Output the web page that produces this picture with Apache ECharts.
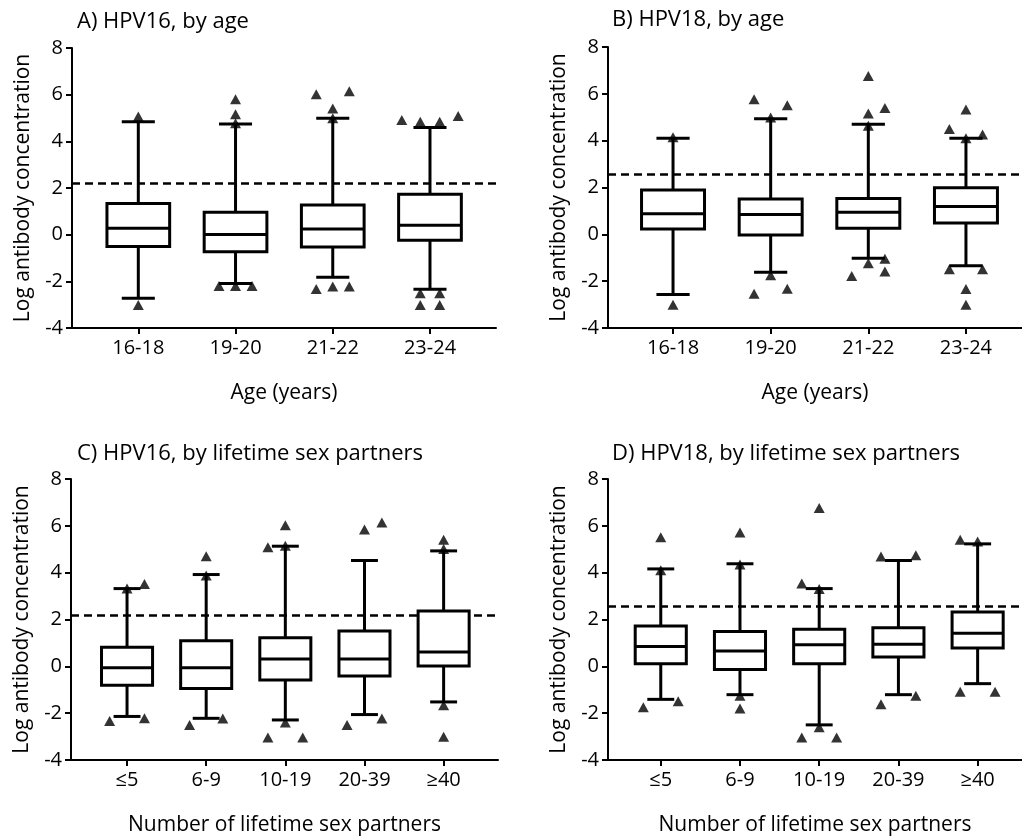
<!DOCTYPE html>
<html>
<head>
<meta charset="utf-8">
<script src="https://cdn.jsdelivr.net/npm/echarts@6/dist/echarts.min.js"></script>
<style>
html,body{margin:0;padding:0;background:#fff;}
#chart{width:1022px;height:837px;}
</style>
</head>
<body>
<div id="chart"></div>
<script>
// ---------- categories ----------
const catsAge = ['16-18', '19-20', '21-22', '23-24'];
const catsPartners = ['\u22645', '6-9', '10-19', '20-39', '\u226540'];

// ---------- box values: [lowerWhisker, Q1, median, Q3, upperWhisker] ----------
const boxA = [
  [-2.73, -0.51, 0.27, 1.34, 4.84],
  [-2.09, -0.73, 0.01, 0.96, 4.74],
  [-1.83, -0.53, 0.24, 1.27, 4.99],
  [-2.34, -0.24, 0.40, 1.73, 4.59]
];
const boxB = [
  [-2.57, 0.23, 0.88, 1.89, 4.10],
  [-1.62, -0.03, 0.85, 1.51, 4.94],
  [-1.02, 0.26, 0.94, 1.53, 4.70],
  [-1.34, 0.48, 1.19, 1.99, 4.10]
];
const boxC = [
  [-2.14, -0.81, -0.06, 0.82, 3.32],
  [-2.22, -0.95, -0.06, 1.09, 3.92],
  [-2.29, -0.58, 0.31, 1.22, 5.13],
  [-2.06, -0.41, 0.31, 1.51, 4.52],
  [-1.52, 0.01, 0.61, 2.36, 4.93]
];
const boxD = [
  [-1.41, 0.11, 0.85, 1.72, 4.16],
  [-1.21, -0.13, 0.65, 1.49, 4.38],
  [-2.50, 0.11, 0.92, 1.58, 3.32],
  [-1.21, 0.40, 0.94, 1.65, 4.52],
  [-0.74, 0.78, 1.41, 2.32, 5.23]
];

// ---------- outliers: [category position (index + small spread), value] ----------
const outA = [
  [0, 5.06], [0, -3.01],
  [1, 5.80], [1, 5.16], [1, 4.77], [0.83, -2.20], [1, -2.20], [1.17, -2.20],
  [1.83, 6.02], [2.17, 6.15], [2, 5.41], [2, 4.99], [1.83, -2.33], [2, -2.22], [2.17, -2.22],
  [2.71, 4.91], [2.9, 4.84], [3.1, 4.84], [3.29, 5.09],
  [2.9, -2.51], [3.1, -2.51], [2.9, -3.01], [3.1, -3.01]
];
const outB = [
  [0, 4.15], [0, -3.01],
  [0.83, 5.77], [1.17, 5.51], [1, 4.99], [1, -1.75], [0.83, -2.54], [1.17, -2.32],
  [2, 6.76], [2, 5.16], [2.17, 5.40], [2, 4.64], [2, -1.24], [2.17, -1.04], [2.17, -1.59], [1.83, -1.78],
  [3, 5.33], [2.83, 4.50], [3.17, 4.26], [3, 4.10], [2.83, -1.49], [3.17, -1.49], [3, -2.33], [3, -3.01]
];
const outC = [
  [0, 3.32], [0.22, 3.52], [-0.22, -2.33], [0.22, -2.22],
  [1, 4.70], [1, 3.88], [0.79, -2.51], [1.21, -2.23],
  [2, 6.02], [1.78, 5.09], [2, 5.15], [2, -2.40], [1.78, -3.04], [2.22, -3.04],
  [3, 5.84], [3.22, 6.14], [2.78, -2.51], [3.22, -2.23],
  [4, 5.41], [4, 5.01], [4, -1.66], [4, -3.01]
];
const outD = [
  [0, 5.51], [0, 4.10], [-0.22, -1.75], [0.22, -1.49],
  [1, 5.72], [1, 4.35], [1, -1.26], [1, -1.80],
  [2, 6.76], [1.78, 3.54], [2, 3.30], [2, -2.60], [1.78, -3.04], [2.22, -3.04],
  [2.78, 4.69], [3.22, 4.74], [2.78, -1.62], [3.22, -1.26],
  [3.78, 5.41], [4, 5.33], [3.78, -1.09], [4.22, -1.09]
];

// ---------- seropositivity cutoffs ----------
const cutoffHPV16 = 2.2;
const cutoffHPV18 = 2.55;

// ---------- y ticks ----------
const yMin = -4, yMax = 8, yStep = 2;

// ---------- panel texts ----------
const titles = ['A) HPV16, by age', 'B) HPV18, by age',
  'C) HPV16, by lifetime sex partners', 'D) HPV18, by lifetime sex partners'];
const yTitle = 'Log antibody concentration';
const xTitleAge = 'Age (years)';
const xTitlePartners = 'Number of lifetime sex partners';

// ================= layout / styling =================
const FONT = 'Open Sans';
const TXT = '#000';
const panels = [
  {grid: {left: 72, top: 48, width: 424, height: 280}, xr: [-0.682, 3.679], cats: catsAge, box: boxA, out: outA, cut: cutoffHPV16, xname: xTitleAge, title: {left: 72, top: 6}},
  {grid: {left: 608, top: 47, right: 0, height: 281}, xr: [-0.666, 3.574], cats: catsAge, box: boxB, out: outB, cut: cutoffHPV18, xname: xTitleAge, title: {left: 607, top: 4}},
  {grid: {left: 71, top: 479, width: 427, height: 282}, xr: [-0.708, 4.687], cats: catsPartners, box: boxC, out: outC, cut: cutoffHPV16, xname: xTitlePartners, title: {left: 72, top: 438}},
  {grid: {left: 608, top: 479, right: 0, height: 282}, xr: [-0.666, 4.56], cats: catsPartners, box: boxD, out: outD, cut: cutoffHPV18, xname: xTitlePartners, title: {left: 607, top: 438}}
];

const BOX_FRAC = 0.645, CAP_FRAC = 0.34, LW = 3;

function renderBox(params, api) {
  const x = api.value(0);
  const lo = api.coord([x, api.value(1)]);
  const q1 = api.coord([x, api.value(2)]);
  const md = api.coord([x, api.value(3)]);
  const q3 = api.coord([x, api.value(4)]);
  const hi = api.coord([x, api.value(5)]);
  const unit = api.size([1, 0])[0];
  const hb = unit * BOX_FRAC / 2, hc = unit * CAP_FRAC / 2;
  const cx = lo[0];
  const st = {stroke: '#000', lineWidth: LW, fill: null};
  return {
    type: 'group',
    children: [
      {type: 'line', shape: {x1: cx, y1: q3[1], x2: cx, y2: hi[1]}, style: st},
      {type: 'line', shape: {x1: cx, y1: q1[1], x2: cx, y2: lo[1]}, style: st},
      {type: 'line', shape: {x1: cx - hc, y1: hi[1], x2: cx + hc, y2: hi[1]}, style: st},
      {type: 'line', shape: {x1: cx - hc, y1: lo[1], x2: cx + hc, y2: lo[1]}, style: st},
      {type: 'rect', shape: {x: cx - hb, y: q3[1], width: 2 * hb, height: q1[1] - q3[1]}, style: {stroke: '#000', lineWidth: LW, fill: '#fff'}},
      {type: 'line', shape: {x1: cx - hb, y1: md[1], x2: cx + hb, y2: md[1]}, style: st}
    ]
  };
}

const option = {
  animation: false,
  backgroundColor: '#fff',
  textStyle: {fontFamily: FONT, color: TXT},
  title: [], grid: [], xAxis: [], yAxis: [], series: []
};

panels.forEach((p, i) => {
  option.title.push({text: titles[i], left: p.title.left, top: p.title.top,
    textStyle: {fontFamily: FONT, fontSize: 22, fontWeight: 'normal', color: TXT}});
  option.grid.push(Object.assign({containLabel: false}, p.grid));
  const idx = p.cats.map((c, k) => k);
  option.xAxis.push({
    type: 'value', gridIndex: i, min: p.xr[0], max: p.xr[1],
    name: p.xname, nameLocation: 'middle', nameGap: 55,
    nameTextStyle: {fontFamily: FONT, fontSize: 21, color: TXT},
    axisLine: {show: true, onZero: false, lineStyle: {color: '#000', width: 2}},
    axisTick: {show: true, length: 6, customValues: idx, lineStyle: {color: '#000', width: 2}},
    axisLabel: {show: true, customValues: idx, margin: 10, fontFamily: FONT, fontSize: 20, color: TXT,
      formatter: (v) => p.cats[Math.round(v)]},
    splitLine: {show: false}
  });
  option.yAxis.push({
    type: 'value', gridIndex: i, min: yMin, max: yMax, interval: yStep,
    name: yTitle, nameLocation: 'middle', nameGap: 38, nameRotate: 90,
    nameTextStyle: {fontFamily: FONT, fontSize: 21, color: TXT},
    axisLine: {show: true, onZero: false, lineStyle: {color: '#000', width: 2}},
    axisTick: {show: true, length: 6, lineStyle: {color: '#000', width: 2}},
    axisLabel: {fontFamily: FONT, fontSize: 20, color: TXT, margin: 9},
    splitLine: {show: false}
  });
  option.series.push({
    type: 'custom', xAxisIndex: i, yAxisIndex: i, z: 3,
    renderItem: renderBox,
    encode: {x: 0, y: [1, 2, 3, 4, 5]},
    data: p.box.map((b, k) => [k].concat(b)),
    markLine: {
      silent: true, symbol: 'none', label: {show: false}, z: 2,
      lineStyle: {color: '#000', width: 2.5, type: [8, 5]},
      data: [{yAxis: p.cut}]
    }
  });
  option.series.push({
    type: 'scatter', xAxisIndex: i, yAxisIndex: i, z: 5,
    symbol: 'triangle', symbolSize: [11, 10],
    itemStyle: {color: '#000'},
    data: p.out
  });
});

const chart = echarts.init(document.getElementById('chart'), null, {renderer: 'canvas'});
chart.setOption(option);
</script>
</body>
</html>
